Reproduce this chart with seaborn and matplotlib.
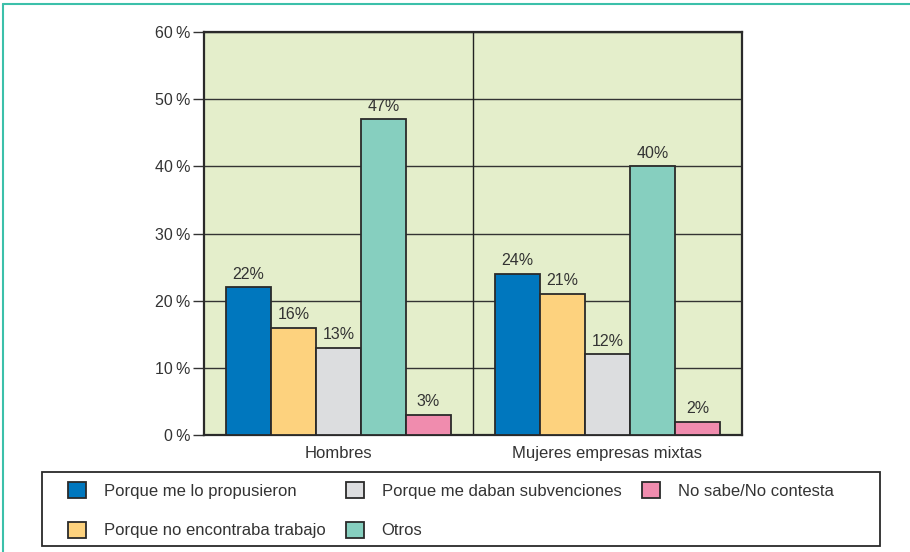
import matplotlib
matplotlib.use("Agg")
import matplotlib.pyplot as plt
from matplotlib.lines import Line2D
from matplotlib.patches import Rectangle
import seaborn as sns
import pandas as pd

categories = ["Hombres", "Mujeres empresas mixtas"]
series = ["Porque me lo propusieron", "Porque no encontraba trabajo",
          "Porque me daban subvenciones", "Otros", "No sabe/No contesta"]
values = {
    "Porque me lo propusieron": [22, 24],
    "Porque no encontraba trabajo": [16, 21],
    "Porque me daban subvenciones": [13, 12],
    "Otros": [47, 40],
    "No sabe/No contesta": [3, 2],
}
colors = ["#0077BE", "#FDD27E", "#DCDDDF", "#86CFBF", "#F08CAE"]
yticks = [0, 10, 20, 30, 40, 50, 60]
ytick_labels = ["0\u2009%", "10\u2009%", "20\u2009%", "30\u2009%", "40\u2009%", "50\u2009%", "60\u2009%"]

rows = []
for s in series:
    for c, v in zip(categories, values[s]):
        rows.append({"cat": c, "serie": s, "val": v})
df = pd.DataFrame(rows)

sns.set_theme(style="white")
plt.rcParams["font.family"] = ["Liberation Sans", "DejaVu Sans"]

fig = plt.figure(figsize=(9.1, 5.52), dpi=100)
ax = fig.add_axes([204/910, 1-435/552, (742-204)/910, (435-32)/552])
ax.set_facecolor("#E4EECB")

sns.barplot(data=df, x="cat", y="val", hue="serie", hue_order=series,
            order=categories, palette=colors, width=0.836, ax=ax,
            edgecolor="#2a2a2a", linewidth=1.3, saturation=1, legend=True,
            zorder=3)

for cont in ax.containers:
    ax.bar_label(cont, labels=[f"{int(round(b.get_height()))}%" for b in cont],
                 padding=4, fontsize=11.5, color="#333333")

ax.set_ylim(0, 60)
ax.set_xlim(-0.5, 1.5)
ax.set_yticks(yticks)
ax.set_yticklabels(ytick_labels, fontsize=11.5, color="#333333")
ax.tick_params(axis="y", direction="out", length=8, width=1, color="#333333", left=True, pad=2)
ax.tick_params(axis="x", length=0, pad=8, labelsize=12, labelcolor="#333333")
ax.set_xlabel("")
ax.set_ylabel("")
ax.grid(axis="y", color="#333333", linewidth=1, zorder=1)
ax.set_axisbelow(True)
ax.axvline(0.5, color="#222222", linewidth=1, zorder=2)
for sp in ax.spines.values():
    sp.set_visible(True)
    sp.set_color("#2a2a2a")
    sp.set_linewidth(1.6)

handles, labels = ax.get_legend_handles_labels()
ax.get_legend().remove()
leg = fig.legend(handles, labels, ncol=3, loc="upper left",
                 bbox_to_anchor=(68/910, 1-482/552),
                 frameon=False, fontsize=12,
                 handlelength=1.08, handleheight=1.08, handletextpad=1.08,
                 columnspacing=1.2, labelspacing=1.4, borderpad=0, borderaxespad=0)
for t in leg.get_texts():
    t.set_color("#333333")
for h in leg.legend_handles:
    h.set_edgecolor("#2a2a2a")
    h.set_linewidth(1.3)

fig.add_artist(Rectangle((42/910, 1-546/552), (880-42)/910, (546-472)/552,
                         transform=fig.transFigure, fill=False,
                         edgecolor="#2a2a2a", linewidth=1.3))

# figure border lines (top and left)
fig.add_artist(Line2D([3/910, 1], [1-4/552, 1-4/552], color="#3CC0AA", linewidth=1.5))
fig.add_artist(Line2D([3/910, 3/910], [0, 1-4/552], color="#3CC0AA", linewidth=1.5))

fig.savefig("out.png", dpi=100)
